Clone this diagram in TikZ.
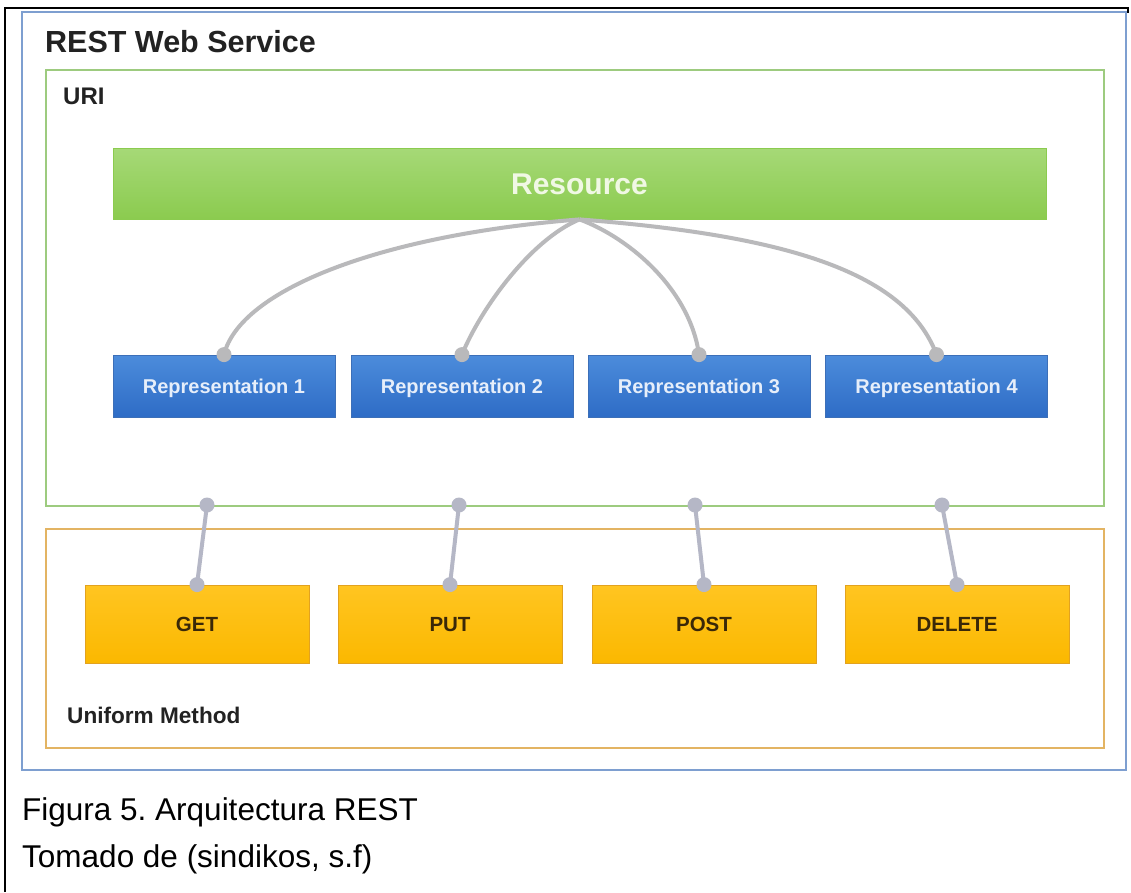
\documentclass[tikz,border=0pt]{standalone}
\usepackage{fontspec}
\setmainfont{Liberation Sans}
\frenchspacing
\begin{document}
\begin{tikzpicture}[x=1pt,y=-1pt,
  frame/.style={draw,line width=1.8pt,inner sep=0pt,anchor=north west},
  repbox/.style={draw=repedge,line width=0.8pt,top color=reptop,bottom color=repbot,
    minimum width=222pt,minimum height=62pt,inner sep=0pt,text=reptext,
    text height=14.3pt,text depth=0pt,
    font=\bfseries\fontsize{20}{24}\selectfont},
  methbox/.style={draw=methedge,line width=0.8pt,top color=methtop,bottom color=methbot,
    minimum width=224pt,minimum height=78pt,inner sep=0pt,text=methtext,
    text height=14.7pt,text depth=0pt,
    font=\bfseries\fontsize{20.5}{24}\selectfont},
  curve/.style={draw=curvecol,line width=4pt},
  link/.style={draw=linkcol,line width=4pt},
  dot/.style={fill=linkcol,circle,inner sep=0pt,minimum size=15pt},
  lab/.style={anchor=base west,inner sep=0pt,font=\bfseries\fontsize{22.6}{26}\selectfont,text=labcol},
  captext/.style={anchor=base west,inner sep=0pt,font=\fontsize{31.5}{36}\selectfont}
]
\definecolor{bluefr}{HTML}{7E9FD0}
\definecolor{greenfr}{HTML}{9DCB7F}
\definecolor{orangefr}{HTML}{E3B463}
\definecolor{reptop}{HTML}{4C8CDB}
\definecolor{repbot}{HTML}{2E6CC6}
\definecolor{repedge}{HTML}{3C6FB8}
\definecolor{reptext}{HTML}{E6EEFA}
\definecolor{restop}{HTML}{A6D977}
\definecolor{resbot}{HTML}{8BCB4F}
\definecolor{restext}{HTML}{F0F8E4}
\definecolor{methtop}{HTML}{FFC521}
\definecolor{methbot}{HTML}{FBB800}
\definecolor{methedge}{HTML}{E2A21F}
\definecolor{methtext}{HTML}{3A2808}
\definecolor{curvecol}{HTML}{B9B9BB}
\definecolor{linkcol}{HTML}{B5B7C6}
\definecolor{labcol}{HTML}{222222}
\useasboundingbox (0,0) rectangle (1131,892);
\fill[white] (0,0) rectangle (1131,892);
% table cell border
\draw[line width=2pt,black] (5,892) -- (5,8) -- (1128,8) -- (1128,13);
% frames
\node[frame,draw=bluefr,minimum width=1104pt,minimum height=758pt] (web) at (21,11) {};
\node[frame,draw=greenfr,minimum width=1058pt,minimum height=436pt] (uri) at (45,69) {};
\node[frame,draw=orangefr,fill=white,minimum width=1058pt,minimum height=219pt] (um) at (45,528) {};
\node[lab,font=\bfseries\fontsize{30.5}{34}\selectfont] (title) at (45,52) {REST Web Service};
\node[lab,font=\bfseries\fontsize{24}{28}\selectfont] (urilab) at (63,104) {URI};
\node[lab] (umlab) at (67,723) {Uniform Method};
% resource
\node[top color=restop,bottom color=resbot,draw=resbot,line width=0.8pt,
  minimum width=933pt,minimum height=71pt,inner sep=0pt,text=restext,
  text height=21.5pt,text depth=0pt,
  font=\bfseries\fontsize{30}{34}\selectfont] (res) at (579.5,183.5) {Resource};
% representations
\node[repbox] (r1) at (224,386) {Representation 1};
\node[repbox] (r2) at (462,386) {Representation 2};
\node[repbox] (r3) at (699,386) {Representation 3};
\node[repbox] (r4) at (936.5,386) {Representation 4};
% curves
\draw[curve] (res.south) .. controls (380,235) and (240,290) .. (r1.north);
\draw[curve] (res.south) .. controls (530,240) and (480,310) .. (r2.north);
\draw[curve] (res.south) .. controls (630,238) and (690,290) .. (r3.north);
\draw[curve] (res.south) .. controls (780,235) and (905,270) .. (r4.north);
\foreach \r in {r1,r2,r3,r4} \node[dot,fill=curvecol] at (\r.north) {};
% methods
\node[methbox] (get) at (197,624) {GET};
\node[methbox] (put) at (450,624) {PUT};
\node[methbox] (post) at (704,624) {POST};
\node[methbox] (del) at (957,624) {DELETE};
\coordinate (u1) at (207,505);
\coordinate (u2) at (459,505);
\coordinate (u3) at (695,505);
\coordinate (u4) at (942,505);
\draw[link] (u1) -- (get.north);
\draw[link] (u2) -- (put.north);
\draw[link] (u3) -- (post.north);
\draw[link] (u4) -- (del.north);
\foreach \p in {u1,u2,u3,u4,get.north,put.north,post.north,del.north} \node[dot] at (\p) {};
% caption
\node[captext] (cap1) at (22,820) {Figura 5. Arquitectura REST};
\node[captext] (cap2) at (22,867) {Tomado de (sindikos, s.f)};
\end{tikzpicture}
\end{document}
